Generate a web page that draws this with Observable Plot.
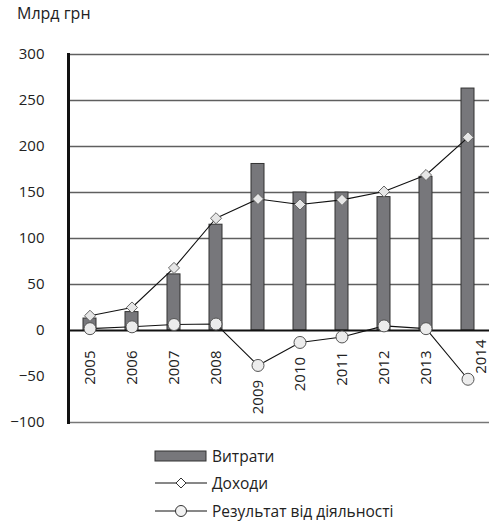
<!DOCTYPE html>
<html><head><meta charset="utf-8">
<script src="https://cdn.jsdelivr.net/npm/d3@7"></script>
<script src="https://cdn.jsdelivr.net/npm/@observablehq/plot@0.6"></script>
<style>
body{margin:0;background:#fff;font-family:"Open Sans",sans-serif;color:#222}
#wrap{position:relative;width:489px;height:525px;overflow:hidden}
#title{position:absolute;left:17px;top:2px;font-size:16px}
#chart{position:absolute;left:0;top:30px}
.leg{position:absolute;left:154px;height:20px;font-size:15.5px;display:flex;align-items:center;white-space:nowrap}
.leg svg{display:block}
</style></head><body>
<div id="wrap">
  <div id="title">Млрд грн</div>
  <div id="chart"></div>
  <div id="legend"></div>
</div>
<script>
const years = ["2005","2006","2007","2008","2009","2010","2011","2012","2013","2014"];
const expenses = [13, 20, 61, 115, 181, 150, 150, 145, 167, 263];
const income = [16, 25, 68, 122, 143, 137, 142, 151, 169, 210];
const result = [2, 4, 6.5, 7, -38, -13, -7, 5, 2, -53];
const yTicks = [-100, -50, 0, 50, 100, 150, 200, 250, 300];
const seriesNames = ["Витрати", "Доходи", "Результат від діяльності"];

const data = years.map((year, i) => ({year, expenses: expenses[i], income: income[i], result: result[i]}));
const roomBelow = d => d.result + 6 > -40;

const plot = Plot.plot({
  width: 489, height: 402,
  marginLeft: 68, marginRight: 0, marginTop: 24, marginBottom: 10,
  style: {fontFamily: "Open Sans", fontSize: "15px", color: "#222", background: "#fff", overflow: "visible"},
  x: {type: "band", domain: years, paddingInner: 0.68, paddingOuter: 0.34, axis: null},
  y: {domain: [-100, 300], ticks: yTicks, tickSize: 0, tickPadding: 24, label: null},
  marks: [
    Plot.ruleY(yTicks.filter(t => t > 0), {stroke: "#5f5f5f", strokeWidth: 1.3}),
    Plot.ruleY([-100], {stroke: "#777", strokeWidth: 1.3}),
    Plot.barY(data, {x: "year", y: "expenses", fill: "#77777b", stroke: "#333", strokeWidth: 1}),
    Plot.ruleY([0], {stroke: "#111", strokeWidth: 2.2}),
    Plot.frame({anchor: "left", stroke: "#111", strokeWidth: 3}),
    Plot.lineY(data, {x: "year", y: "income", stroke: "#111", strokeWidth: 1.1}),
    Plot.lineY(data, {x: "year", y: "result", stroke: "#111", strokeWidth: 1.1}),
    Plot.dot(data, {x: "year", y: "income", symbol: "diamond2", r: 5, fill: "#e6e6e6", stroke: "#666", strokeWidth: 1}),
    Plot.dot(data, {x: "year", y: "result", r: 6, fill: "#ececec", stroke: "#555", strokeWidth: 1}),
    Plot.text(data.filter(roomBelow), {x: "year", y: d => Math.min(0, d.result + 6), text: "year", rotate: -90, textAnchor: "end", dy: 20, fontSize: 15, fill: "#222"}),
    Plot.text(data.filter(d => !roomBelow(d)), {x: "year", y: 0, text: "year", rotate: -90, textAnchor: "end", dy: 9, dx: 13, fontSize: 15, fill: "#222"})
  ]
});
document.getElementById("chart").appendChild(plot);

const swatches = [
  '<svg width="58" height="14"><rect x="1" y="2" width="51" height="10" fill="#77777b" stroke="#333"/></svg>',
  '<svg width="58" height="14"><line x1="1" x2="53" y1="7" y2="7" stroke="#111"/><path d="M27,2 L32,7 L27,12 L22,7 Z" fill="#fff" stroke="#333"/></svg>',
  '<svg width="58" height="14"><line x1="1" x2="53" y1="7" y2="7" stroke="#111"/><circle cx="27" cy="7" r="5.5" fill="#f2f2f2" stroke="#333"/></svg>'
];
const tops = [446, 473, 501];
const legend = document.getElementById("legend");
seriesNames.forEach((name, i) => {
  const row = document.createElement("div");
  row.className = "leg";
  row.style.top = tops[i] + "px";
  row.innerHTML = swatches[i] + "<span>" + name + "</span>";
  legend.appendChild(row);
});
</script>
</body></html>
